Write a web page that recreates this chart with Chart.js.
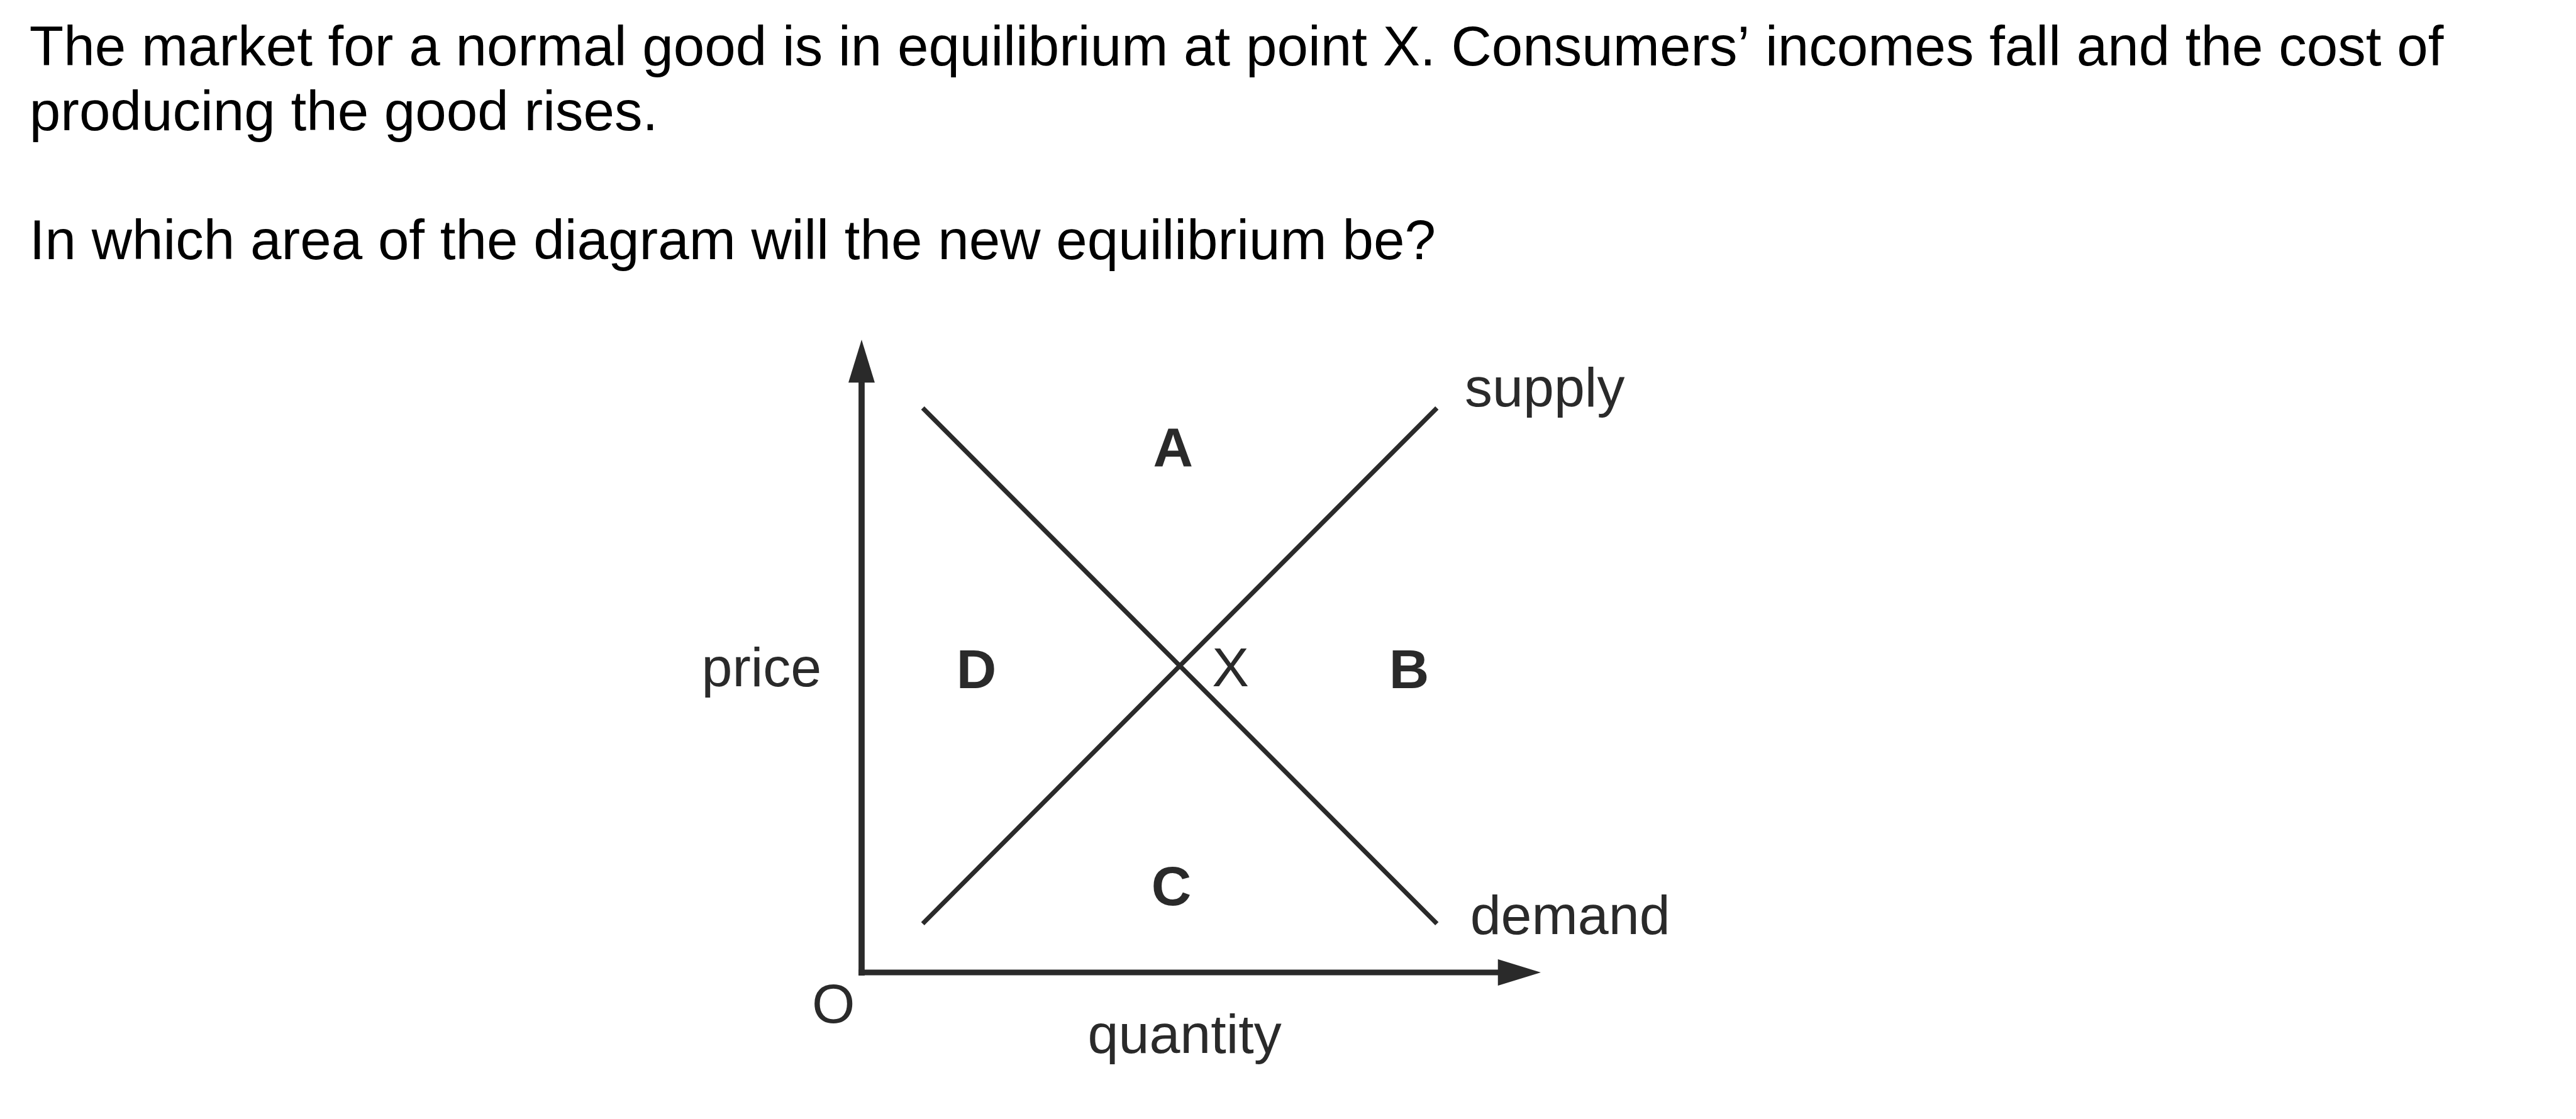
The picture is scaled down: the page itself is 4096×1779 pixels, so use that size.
<!DOCTYPE html>
<html>
<head>
<meta charset="utf-8">
<title>Market equilibrium</title>
<script src="https://cdn.jsdelivr.net/npm/chart.js@4.4.1/dist/chart.umd.min.js"></script>
<style>
    html, body { margin: 0; padding: 0; background: #ffffff; }
    canvas { display: block; }
</style>
</head>
<body>
<canvas id="marketChart" width="4096" height="1779"></canvas>
<script>
// question text above the diagram
const questionLines = [
    "The market for a normal good is in equilibrium at point X. Consumers’ incomes fall and the cost of",
    "producing the good rises.",
    "",
    "In which area of the diagram will the new equilibrium be?"
];

// both axes run 0..10 (quantity across, price up)
const axisMin = 0;
const axisMax = 10;

// supply / demand lines: [quantity, price] end points
const supplyQuantity = [0.9, 8.47];
const supplyPrice = [0.77, 8.92];
const demandQuantity = [0.9, 8.47];
const demandPrice = [8.92, 0.77];

// answer areas (bold letters)
const areaLetters = ["A", "B", "C", "D"];
const areaQuantity = [4.585, 8.06, 4.56, 1.69];
const areaPrice = [8.0, 4.49, 1.06, 4.49];

// other labels in the diagram
const plainLabels = ["supply", "demand", "price", "O", "quantity", "X"];
const plainQuantity = [8.88, 8.96, -0.59, -0.415, 4.756, 5.16];
const plainPrice = [8.95, 0.61, 4.525, -0.8, -1.27, 4.525];
const plainAlign = ["left", "left", "right", "center", "center", "left"];

const S = 0.975;               // reference -> window
const ink = "#2a2a2a";
const fontFamily = '"Liberation Sans", Arial, sans-serif';

// 坐标轴 + 箭头 + 文字
const diagramPlugin = {
    id: "diagramPlugin",
    beforeDatasetsDraw(chart) {
        const ctx = chart.ctx;
        const xs = chart.scales.x;
        const ys = chart.scales.y;
        const x0 = xs.getPixelForValue(axisMin);
        const y0 = ys.getPixelForValue(axisMin);
        const xTip = xs.getPixelForValue(axisMax);
        const yTip = ys.getPixelForValue(axisMax);
        const lw = 10 * S;
        const headLen = 70 * S;
        const headHalf = 21.5 * S;

        ctx.save();
        ctx.strokeStyle = ink;
        ctx.fillStyle = ink;
        ctx.lineWidth = lw;
        ctx.lineCap = "butt";

        // vertical axis (price)
        ctx.beginPath();
        ctx.moveTo(x0, y0 + lw / 2);
        ctx.lineTo(x0, yTip + headLen - 1);
        ctx.stroke();
        ctx.beginPath();
        ctx.moveTo(x0, yTip);
        ctx.lineTo(x0 - headHalf, yTip + headLen);
        ctx.lineTo(x0 + headHalf, yTip + headLen);
        ctx.closePath();
        ctx.fill();

        // horizontal axis (quantity)
        ctx.lineWidth = 9 * S;
        ctx.beginPath();
        ctx.moveTo(x0 - lw / 2, y0);
        ctx.lineTo(xTip - headLen + 1, y0);
        ctx.stroke();
        ctx.beginPath();
        ctx.moveTo(xTip, y0);
        ctx.lineTo(xTip - headLen, y0 - headHalf);
        ctx.lineTo(xTip - headLen, y0 + headHalf);
        ctx.closePath();
        ctx.fill();
        ctx.restore();
    },
    afterDatasetsDraw(chart) {
        const ctx = chart.ctx;
        const xs = chart.scales.x;
        const ys = chart.scales.y;
        const size = 88;

        ctx.save();
        ctx.fillStyle = ink;
        ctx.textBaseline = "alphabetic";

        ctx.font = `${size}px ${fontFamily}`;
        plainLabels.forEach((label, i) => {
            ctx.textAlign = plainAlign[i];
            ctx.fillText(label, xs.getPixelForValue(plainQuantity[i]), ys.getPixelForValue(plainPrice[i]));
        });

        ctx.font = `bold ${size}px ${fontFamily}`;
        ctx.textAlign = "center";
        areaLetters.forEach((label, i) => {
            ctx.fillText(label, xs.getPixelForValue(areaQuantity[i]), ys.getPixelForValue(areaPrice[i]));
        });

        // question
        ctx.fillStyle = "#000000";
        ctx.font = `${89}px ${fontFamily}`;
        ctx.textAlign = "left";
        questionLines.forEach((line, i) => {
            if (line) ctx.fillText(line, 48 * S, (107 + i * 105.3) * S);
        });
        ctx.restore();
    }
};

function toPoints(qs, ps) {
    return qs.map((q, i) => ({ x: q, y: ps[i] }));
}

const canvas = document.getElementById("marketChart");
new Chart(canvas.getContext("2d"), {
    type: "scatter",
    data: {
        datasets: [
            {
                label: "supply",
                data: toPoints(supplyQuantity, supplyPrice),
                showLine: true,
                borderColor: ink,
                borderWidth: 7.5 * S,
                borderCapStyle: "butt",
                pointRadius: 0,
                clip: false
            },
            {
                label: "demand",
                data: toPoints(demandQuantity, demandPrice),
                showLine: true,
                borderColor: ink,
                borderWidth: 7.5 * S,
                borderCapStyle: "butt",
                pointRadius: 0,
                clip: false
            }
        ]
    },
    options: {
        responsive: false,
        animation: false,
        events: [],
        devicePixelRatio: 1,
        layout: {
            // chart area = the axes box (origin to arrow tips)
            padding: { left: 1370, top: 540, right: 4096 - 2450, bottom: 1779 - 1546 }
        },
        scales: {
            x: { type: "linear", min: axisMin, max: axisMax, display: false },
            y: { type: "linear", min: axisMin, max: axisMax, display: false }
        },
        plugins: {
            legend: { display: false },
            tooltip: { enabled: false },
            title: { display: false }
        }
    },
    plugins: [diagramPlugin]
});
</script>
</body>
</html>
